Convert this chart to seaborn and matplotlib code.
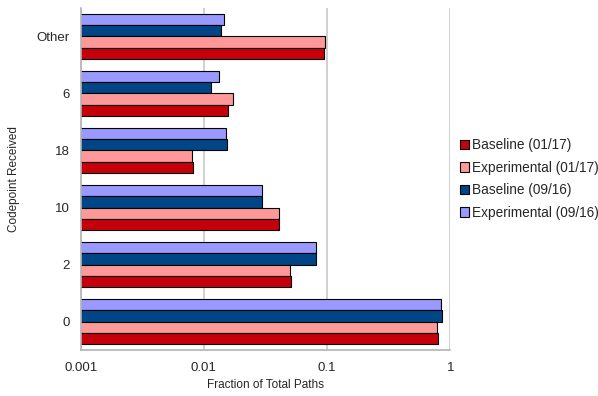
import pandas as pd
import matplotlib
matplotlib.use("Agg")
import matplotlib.pyplot as plt
import seaborn as sns
from matplotlib.patches import Patch

# Fraction of total paths per codepoint received
codepoints = ["Other", "6", "18", "10", "2", "0"]
base_0117 = [0.095, 0.0156, 0.0081, 0.0405, 0.0505, 0.79]
exp_0117 = [0.097, 0.0171, 0.0080, 0.0404, 0.050, 0.784]
base_0916 = [0.0137, 0.0115, 0.0153, 0.0298, 0.0815, 0.85]
exp_0916 = [0.0145, 0.0133, 0.0152, 0.0298, 0.0814, 0.845]

series = {
    "Baseline (01/17)": base_0117,
    "Experimental (01/17)": exp_0117,
    "Baseline (09/16)": base_0916,
    "Experimental (09/16)": exp_0916,
}
colors = {
    "Baseline (01/17)": "#c5000b",
    "Experimental (01/17)": "#ff9999",
    "Baseline (09/16)": "#004586",
    "Experimental (09/16)": "#9999ff",
}

rows = []
for name, vals in series.items():
    for cp, v in zip(codepoints, vals):
        rows.append({"codepoint": cp, "series": name, "fraction": v})
df = pd.DataFrame(rows)

sns.set_style("white")
plt.rcParams["font.family"] = ["Liberation Sans", "DejaVu Sans"]

fig = plt.figure(figsize=(5.98, 3.96), dpi=100)
ax = fig.add_axes([0.135, 0.116, 0.618, 0.864])

hue_order = list(series.keys())[::-1]
sns.barplot(data=df, y="codepoint", x="fraction", hue="series", order=codepoints,
            hue_order=hue_order, palette=colors, orient="h", width=0.8,
            edgecolor="black", linewidth=0.8, saturation=1, legend=False, ax=ax)

ax.set_xscale("log")
ax.set_xlim(0.001, 1)
ax.set_ylim(len(codepoints) - 0.5, -0.5)
ax.set_xticks([0.001, 0.01, 0.1, 1])
ax.set_xticklabels(["0.001", "0.01", "0.1", "1"])
ax.xaxis.set_minor_locator(matplotlib.ticker.NullLocator())
ax.grid(axis="x", color="#c8c8c8", linewidth=1.2)
ax.set_axisbelow(True)

# category boundary ticks on y
ax.set_yticks(range(len(codepoints)))
ax.set_yticklabels(codepoints)
ax.set_yticks([i + 0.5 for i in range(-1, len(codepoints))], minor=True)
ax.tick_params(axis="y", which="major", length=0, pad=8, labelsize=9.5)
ax.tick_params(axis="y", which="minor", length=5, color="#b3b3b3", width=1.2)
ax.tick_params(axis="x", which="major", length=5, color="#b3b3b3", width=1.2, labelsize=9.5)

for s in ["top", "right"]:
    ax.spines[s].set_visible(False)
for s in ["left", "bottom"]:
    ax.spines[s].set_color("#b3b3b3")
    ax.spines[s].set_linewidth(1.2)

ax.set_xlabel("Fraction of Total Paths", fontsize=8.5)
ax.set_ylabel("Codepoint Received", fontsize=8.5, labelpad=12)

handles = [Patch(facecolor=colors[n], edgecolor="black", linewidth=0.8, label=n) for n in series]
fig.legend(handles=handles, loc="center left", bbox_to_anchor=(0.753, 0.548), frameon=False,
           fontsize=9.8, handlelength=0.7, handleheight=0.7, handletextpad=0.2,
           labelspacing=0.62, borderpad=0.2)

fig.savefig("out.png", dpi=100)
